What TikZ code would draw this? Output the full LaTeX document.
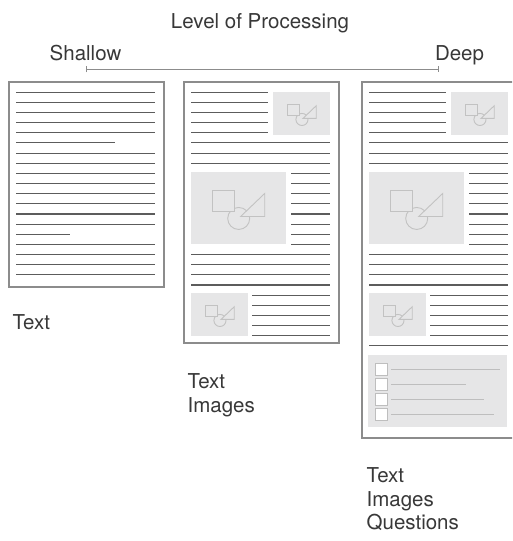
\documentclass[tikz,border=0pt]{standalone}
\usepackage{fontspec}
\setmainfont{TeX Gyre Heros}
\usetikzlibrary{arrows.meta,positioning}
\definecolor{pgBorder}{HTML}{8C8C8C}
\definecolor{pgLine}{HTML}{5C5C5C}
\definecolor{pgImg}{HTML}{E6E6E7}
\definecolor{pgIcon}{HTML}{C2C2C2}
\definecolor{pgText}{HTML}{383838}
\definecolor{pgQuest}{HTML}{BEBEBE}
\tikzset{
  page/.style={draw=pgBorder, line width=1.1pt, fill=white, inner sep=0pt, minimum width=155pt, minimum height=#1},
  txtline/.style={draw=pgLine, line width=1.1pt},
  imgbox/.style={fill=pgImg, inner sep=0pt},
  icon/.style={draw=pgIcon, fill=pgImg, line width=0.9pt},
  chkbox/.style={draw=pgQuest, fill=white, line width=1.1pt, inner sep=0pt, minimum size=12pt},
  qline/.style={draw=pgQuest, line width=1.4pt},
  lbl/.style={font=\fontsize{20.5}{23.5}\selectfont, text=pgText, inner sep=0pt, align=left},
  pics/figicon/.style={code={
    \draw[icon] (0,{10*#1}) circle[radius={11*#1}];
    \draw[icon] ({-26*#1},{-18*#1}) rectangle ({-4*#1},{3*#1});
    \draw[icon] ({2*#1},{8*#1}) -- ({26*#1},{8*#1}) -- ({26*#1},{-15*#1}) -- cycle;
  }},
}

\begin{document}
\begin{tikzpicture}[x=1pt, y=-1pt]
\useasboundingbox (0,0) rectangle (512,541);
\clip (0,0) rectangle (512,541);
% --- scale of processing depth
\node[lbl, anchor=base] (title) at (260,28) {Level of Processing};
\node[lbl, anchor=base] (shallow) at (85.5,60) {Shallow};
\node[lbl, anchor=base] (deep) at (459.5,60) {Deep};
\coordinate (barL) at (86,69.3);
\coordinate (barR) at (438.7,69.3);
\draw[draw=pgBorder, line width=0.8pt, {Bar[width=6pt]}-{Bar[width=6pt]}] (barL) -- (barR);
% --- pages
\node[page=205pt] (page1) at (86.5,184.5) {};
\node[page=261pt] (page2) at (261.5,212.5) {};
\node[page=356pt] (page3) at (439.5,260) {};
% --- text only page
\begin{scope}[shift={(page1.north west)}]
  \foreach \i/\e in {0/147,1/147,2/147,3/147,4/147,5/107,6/147,7/147,8/147,9/147,10/147,11/147,12/147,13/147,14/62,15/147,16/147,17/147,18/147}
    \draw[txtline] (8,{10.7+10.15*\i}) -- (\e,{10.7+10.15*\i});
\end{scope}
% --- pages with images
\foreach \pg in {page2,page3}{
  \begin{scope}[shift={(\pg.north west)}]
    \foreach \i in {0,...,4}
      \draw[txtline] (8,{10.7+10.15*\i}) -- (85,{10.7+10.15*\i});
    \node[imgbox, minimum width=57pt, minimum height=43pt] (\pg-imgA) at (118.5,32.5) {};
    \pic at (\pg-imgA) {figicon=0.55};
    \foreach \i in {5,6,7}
      \draw[txtline] (8,{10.7+10.15*\i}) -- (147,{10.7+10.15*\i});
    \node[imgbox, minimum width=95.5pt, minimum height=72pt] (\pg-imgB) at (55.25,127) {};
    \pic at (\pg-imgB) {figicon=1};
    \foreach \i in {8,...,15}
      \draw[txtline] (108,{10.7+10.15*\i}) -- (147,{10.7+10.15*\i});
    \foreach \i in {16,...,19}
      \draw[txtline] (8,{10.7+10.15*\i}) -- (147,{10.7+10.15*\i});
    \node[imgbox, minimum width=57pt, minimum height=43pt] (\pg-imgC) at (36.5,233.5) {};
    \pic at (\pg-imgC) {figicon=0.55};
    \foreach \i in {20,...,24}
      \draw[txtline] (69,{10.7+10.15*\i}) -- (147,{10.7+10.15*\i});
  \end{scope}
}
% --- questions block
\begin{scope}[shift={(page3.north west)}]
  \draw[txtline] (8,{10.7+10.15*25}) -- (147,{10.7+10.15*25});
  \node[imgbox, minimum width=139pt, minimum height=72pt] (quiz) at (76.5,310) {};
  \foreach \k/\e in {0/139,1/105,2/123,3/133}{
    \node[chkbox] (chk\k) at (20,{288+15*\k}) {};
    \draw[qline] (30,{288+15*\k}) -- (\e,{288+15*\k});
  }
\end{scope}
% --- captions (base anchor sits on the last line)
\node[lbl, anchor=base west] (cap1) at ([shift={(4,42)}]page1.south west) {Text};
\node[lbl, anchor=base west] (cap2) at ([shift={(4,68.5)}]page2.south west) {Text\\Images};
\node[lbl, anchor=base west] (cap3) at ([shift={(5,91)}]page3.south west) {Text\\Images\\Questions};
\end{tikzpicture}
\end{document}
